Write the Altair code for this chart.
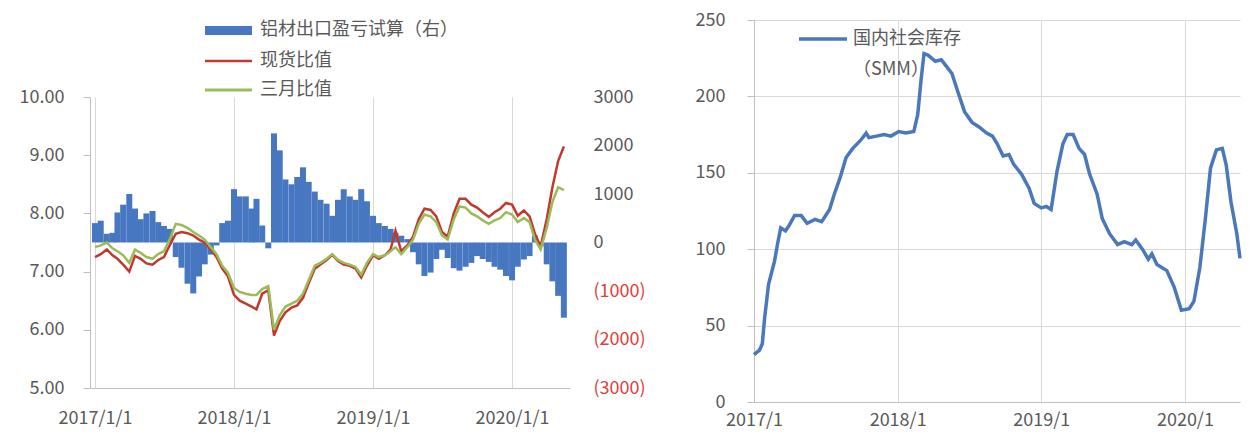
import altair as alt
import pandas as pd

FONT = "Noto Sans CJK SC"
GRAY = "#595959"
AXIS_GRAY = "#BFBFBF"
GRID = "#D9D9D9"
BLUE = "#4677C0"
RED = "#C0392F"
GREEN = "#9BBB59"
NEG_RED = "#E0403A"
LINE_BLUE = "#4A78B8"

# ---------------- left chart data (semi-monthly, 2017/1/1 - 2020/5/16) ----------------
months = [(y, m) for y in range(2017, 2021) for m in range(1, 13)][:41]
left_dates = [f"{y}/{m:02d}/{d:02d}" for (y, m) in months for d in (1, 16)]

export_pl = [400, 450, 180, 200, 620, 780, 1000, 700, 480, 600,
             650, 420, 340, 280, -300, -520, -850, -1050, -700, -450,
             -250, -60, 400, 450, 1100, 950, 950, 700, 900, 350,
             -120, 2250, 1900, 1300, 1200, 1350, 1550, 1250, 1050, 880,
             800, 550, 880, 1100, 950, 880, 1100, 850, 550, 400,
             340, 280, 200, 140, 70, -200, -450, -690, -620, -340,
             -150, -320, -530, -580, -500, -420, -280, -340, -400, -500,
             -560, -690, -780, -500, -350, -280, 140, -80, -450, -800,
             -1100, -1550]

spot_ratio = [7.25, 7.30, 7.38, 7.28, 7.22, 7.12, 7.00, 7.27, 7.22, 7.14,
              7.12, 7.20, 7.25, 7.45, 7.65, 7.68, 7.66, 7.62, 7.55, 7.50,
              7.38, 7.25, 7.05, 6.92, 6.60, 6.50, 6.45, 6.40, 6.35, 6.62,
              6.68, 5.90, 6.15, 6.30, 6.38, 6.42, 6.55, 6.80, 7.05, 7.12,
              7.20, 7.29, 7.18, 7.12, 7.10, 7.05, 6.90, 7.10, 7.28, 7.22,
              7.28, 7.38, 7.70, 7.35, 7.45, 7.60, 7.90, 8.08, 8.06, 7.95,
              7.68, 7.60, 8.00, 8.25, 8.25, 8.15, 8.10, 8.02, 7.94, 8.02,
              8.08, 8.18, 8.15, 7.96, 8.05, 7.95, 7.65, 7.43, 7.90, 8.45,
              8.90, 9.15]

three_month_ratio = [7.42, 7.45, 7.50, 7.40, 7.35, 7.28, 7.15, 7.38, 7.32, 7.25,
                     7.22, 7.30, 7.35, 7.55, 7.82, 7.80, 7.75, 7.68, 7.62, 7.55,
                     7.42, 7.30, 7.10, 6.98, 6.72, 6.65, 6.62, 6.60, 6.60, 6.70,
                     6.75, 6.00, 6.25, 6.40, 6.45, 6.50, 6.62, 6.85, 7.10, 7.15,
                     7.22, 7.30, 7.20, 7.15, 7.12, 7.08, 6.95, 7.15, 7.30, 7.25,
                     7.28, 7.35, 7.42, 7.30, 7.42, 7.55, 7.82, 7.98, 7.95, 7.85,
                     7.62, 7.55, 7.90, 8.12, 8.10, 8.00, 7.95, 7.88, 7.82, 7.88,
                     7.92, 8.02, 7.98, 7.85, 7.92, 7.85, 7.55, 7.38, 7.75, 8.20,
                     8.45, 8.40]

left_legend = ["铝材出口盈亏试算（右）", "现货比值", "三月比值"]
left_ticks = [5, 6, 7, 8, 9, 10]
right_ticks = [-3000, -2000, -1000, 0, 1000, 2000, 3000]

# ---------------- right chart data ----------------
inv_dates = ["2017/01/01", "2017/01/15", "2017/01/22", "2017/01/28", "2017/02/07", "2017/02/22",
             "2017/03/03", "2017/03/10", "2017/03/22", "2017/03/30", "2017/04/14", "2017/05/01",
             "2017/05/16", "2017/06/05", "2017/06/22", "2017/07/12", "2017/07/24", "2017/08/08",
             "2017/08/23", "2017/09/09", "2017/09/28", "2017/10/13", "2017/10/20", "2017/11/08",
             "2017/11/28", "2017/12/15", "2018/01/04", "2018/01/22", "2018/02/11", "2018/02/21",
             "2018/03/02", "2018/03/09", "2018/03/19", "2018/04/07", "2018/04/22", "2018/05/04",
             "2018/05/19", "2018/06/03", "2018/06/20", "2018/07/09", "2018/07/27", "2018/08/15",
             "2018/08/30", "2018/09/11", "2018/09/26", "2018/10/11", "2018/10/23", "2018/11/12",
             "2018/12/01", "2018/12/14", "2019/01/01", "2019/01/14", "2019/01/26", "2019/02/10",
             "2019/02/25", "2019/03/08", "2019/03/23", "2019/04/07", "2019/04/21", "2019/05/04",
             "2019/05/23", "2019/06/05", "2019/06/24", "2019/07/14", "2019/07/31", "2019/08/19",
             "2019/08/29", "2019/09/15", "2019/09/30", "2019/10/09", "2019/10/22", "2019/11/16",
             "2019/12/05", "2019/12/23", "2020/01/12", "2020/01/24", "2020/02/08", "2020/02/22",
             "2020/03/06", "2020/03/21", "2020/04/05", "2020/04/15", "2020/04/27", "2020/05/12",
             "2020/05/20"]
inv_values = [31, 34, 38, 55, 77, 92, 105, 114, 112, 115, 122, 122,
              117, 119.5, 118, 126, 136, 147, 160, 166, 171, 176, 173, 174,
              175, 174, 177, 176, 177, 188, 212, 228, 227, 223, 224, 220,
              215, 203, 190, 183, 180, 176, 174, 169, 161, 162, 155.5, 149,
              140, 130, 127, 128, 126, 151, 169, 175, 175, 166, 162, 149,
              136, 120, 110, 103, 105, 103, 106, 100, 93.5, 97, 90, 86,
              75, 60, 61, 66, 88, 120, 153, 165, 166, 155, 131, 110, 94]
inv_ticks = [0, 50, 100, 150, 200, 250]
right_legend = ["国内社会库存", "（SMM）"]

years = [alt.DateTime(year=y, month=1, date=1) for y in (2017, 2018, 2019, 2020)]

# ---------------- left chart ----------------
left_df = pd.DataFrame({"date": left_dates, "pl": export_pl,
                        "spot": spot_ratio, "three": three_month_ratio})

x_left = alt.X("date:T",
               scale=alt.Scale(domain=[alt.DateTime(year=2017, month=1, date=1),
                                       alt.DateTime(year=2020, month=5, date=19)]),
               axis=alt.Axis(values=years, format="%Y/%-m/%-d", grid=True, gridColor=GRID,
                             domainColor=AXIS_GRAY, ticks=False, tickSize=0, labelPadding=21,
                             labelFlush=False, labelOverlap=False, labelFont=FONT,
                             labelFontSize=18, labelColor=GRAY, title=None))

bars = alt.Chart(left_df).mark_bar(color=BLUE, size=6).encode(
    x=x_left,
    y=alt.Y("pl:Q", scale=alt.Scale(domain=[-3000, 3000], nice=False),
            axis=alt.Axis(orient="right", values=right_ticks, domain=False, ticks=False,
                          tickSize=0, grid=False, labelPadding=23, labelAlign="left",
                          labelExpr="datum.value < 0 ? '(' + format(-datum.value, 'd') + ')' : format(datum.value, 'd')",
                          labelColor={"condition": {"test": "datum.value < 0", "value": NEG_RED},
                                      "value": GRAY},
                          labelFont=FONT, labelFontSize=18, title=None)),
)

y_axis_left = alt.Axis(orient="left", values=left_ticks, format=".2f", domainColor=AXIS_GRAY,
                       tickColor=AXIS_GRAY, tickSize=7, labelPadding=19, grid=False,
                       labelFont=FONT, labelFontSize=18, labelColor=GRAY, title=None)
y_scale_left = alt.Scale(domain=[5, 10], nice=False, zero=False)

red_line = alt.Chart(left_df).mark_line(color=RED, strokeWidth=2.5).encode(
    x=x_left, y=alt.Y("spot:Q", scale=y_scale_left, axis=y_axis_left))
green_line = alt.Chart(left_df).mark_line(color=GREEN, strokeWidth=2.5).encode(
    x=x_left, y=alt.Y("three:Q", scale=y_scale_left, axis=y_axis_left))

left_main = alt.layer(bars, alt.layer(red_line, green_line)).resolve_scale(
    y="independent").properties(width=480, height=291)

one = pd.DataFrame({"k": [0]})
LEG_TOP = 20  # page y of the legend panel's top
leg_rect = alt.Chart(one).mark_rect(color=BLUE).encode(
    x=alt.value(115), x2=alt.value(162), y=alt.value(26 - LEG_TOP), y2=alt.value(35 - LEG_TOP))
leg_red = alt.Chart(one).mark_rule(color=RED, strokeWidth=2.5).encode(
    x=alt.value(115), x2=alt.value(162), y=alt.value(61 - LEG_TOP))
leg_green = alt.Chart(one).mark_rule(color=GREEN, strokeWidth=3).encode(
    x=alt.value(115), x2=alt.value(162), y=alt.value(90 - LEG_TOP))
leg_texts = [alt.Chart(one).mark_text(text=t, align="left", baseline="middle", font=FONT,
                                      fontSize=18, color=GRAY).encode(
    x=alt.value(170), y=alt.value(yy - LEG_TOP)) for t, yy in zip(left_legend, [30, 61, 90])]
left_legend_chart = alt.layer(leg_rect, leg_red, leg_green, *leg_texts).properties(
    width=480, height=97 - LEG_TOP)

left_col = alt.vconcat(left_legend_chart, left_main, spacing=0, bounds="flush")

# ---------------- right chart ----------------
right_df = pd.DataFrame({"date": inv_dates, "inv": inv_values})
x_right = alt.X("date:T",
                scale=alt.Scale(domain=[alt.DateTime(year=2017, month=1, date=1),
                                        alt.DateTime(year=2020, month=5, date=20)]),
                axis=alt.Axis(values=years, format="%Y/%-m", grid=True, gridColor=GRID,
                              domainColor=AXIS_GRAY, ticks=False, tickSize=0, labelPadding=9,
                              labelFlush=False, labelOverlap=False, labelFont=FONT,
                              labelFontSize=18, labelColor=GRAY, title=None))
y_right = alt.Y("inv:Q", scale=alt.Scale(domain=[0, 250], nice=False),
                axis=alt.Axis(values=inv_ticks, grid=True, gridColor=GRID, domainColor=AXIS_GRAY,
                              tickColor=AXIS_GRAY, tickSize=7, labelPadding=22, labelFont=FONT,
                              labelFontSize=18, labelColor=GRAY, title=None))

r_texts = [alt.Chart(one).mark_text(text=t, align="left", baseline="middle", font=FONT,
                                    fontSize=18, color=GRAY).encode(
    x=alt.value(99), y=alt.value(yy)) for t, yy in zip(right_legend, [19, 50])]
r_rule = alt.Chart(one).mark_rule(color=LINE_BLUE, strokeWidth=3.5).encode(
    x=alt.value(45), x2=alt.value(93), y=alt.value(19))
inv_line = alt.Chart(right_df).mark_line(color=LINE_BLUE, strokeWidth=3.5).encode(
    x=x_right, y=y_right)

right_chart = alt.layer(*r_texts, r_rule, inv_line).properties(width=486, height=382)

chart = alt.hconcat(left_col, right_chart, spacing=49).properties(
    padding={"left": 11, "top": 3, "right": 0, "bottom": 0}
).configure_view(stroke=None)

chart.save("out.html", embed_options={"renderer": "svg", "actions": False})
